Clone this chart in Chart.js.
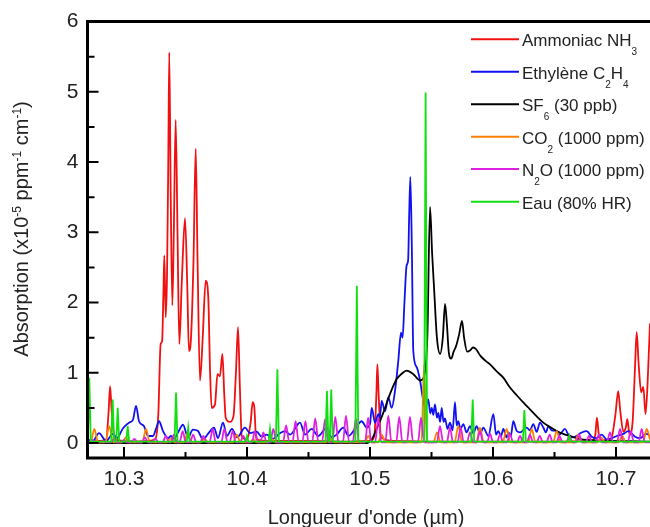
<!DOCTYPE html>
<html>
<head>
<meta charset="utf-8">
<script src="https://cdn.jsdelivr.net/npm/chart.js@4.4.0/dist/chart.umd.min.js"></script>
<style>
html, body { margin: 0; padding: 0; background: #fff; overflow: hidden; }
#wrap { width: 650px; height: 527px; }
</style>
</head>
<body>
<div id="wrap"><canvas id="spectre" width="650" height="527"></canvas></div>
<script>
// spectres : [longueur d'onde (um), absorption (x1e-5 ppm-1 cm-1)]
var nh3 = [
  [10.2703,0.02],[10.2800,0.03],[10.2855,0.05],[10.2875,0.45],[10.2887,0.81],[10.2900,0.45],[10.2925,0.06],
  [10.3000,0.03],[10.3100,0.02],[10.3200,0.03],[10.3255,0.06],[10.3279,0.41],[10.3298,1.41],[10.3310,1.45],
  [10.3320,2.10],[10.3328,2.67],[10.3339,1.79],[10.3350,2.40],[10.3360,4.00],[10.3368,5.56],[10.3380,3.50],
  [10.3393,1.96],[10.3405,3.00],[10.3420,4.60],[10.3435,3.00],[10.3450,1.41],[10.3470,2.30],[10.3496,3.20],
  [10.3515,2.20],[10.3528,1.31],[10.3545,1.50],[10.3565,2.60],[10.3583,4.19],[10.3598,2.60],[10.3618,0.89],
  [10.3640,1.50],[10.3664,2.31],[10.3685,2.08],[10.3700,1.00],[10.3713,0.50],[10.3740,0.55],[10.3760,0.98],
  [10.3780,0.95],[10.3800,1.27],[10.3815,0.70],[10.3827,0.36],[10.3860,0.30],[10.3890,0.38],[10.3910,1.00],
  [10.3927,1.65],[10.3942,0.80],[10.3957,0.10],[10.4000,0.05],[10.4030,0.30],[10.4046,0.58],[10.4060,0.50],
  [10.4075,0.05],[10.4200,0.03],[10.4500,0.03],[10.4800,0.02],[10.5000,0.03],[10.5035,0.10],[10.5052,0.70],
  [10.5060,1.12],[10.5070,0.70],[10.5090,0.08],[10.5200,0.03],[10.5500,0.02],[10.6000,0.02],[10.6500,0.02],
  [10.6800,0.03],[10.6832,0.12],[10.6845,0.36],[10.6862,0.10],[10.6900,0.04],[10.6960,0.06],[10.6995,0.40],
  [10.7018,0.74],[10.7035,0.45],[10.7060,0.16],[10.7080,0.22],[10.7092,0.34],[10.7110,0.12],[10.7135,0.30],
  [10.7155,1.10],[10.7168,1.58],[10.7185,1.10],[10.7205,0.72],[10.7222,0.80],[10.7240,0.41],[10.7258,0.90],
  [10.7276,1.70]
];
var c2h4 = [
  [10.2703,0.05],[10.2748,0.03],[10.2797,0.14],[10.2854,0.03],[10.2911,0.13],[10.2943,0.07],[10.2992,0.21],
  [10.3041,0.29],[10.3073,0.33],[10.3098,0.53],[10.3122,0.31],[10.3163,0.24],[10.3195,0.10],[10.3236,0.10],
  [10.3260,0.20],[10.3285,0.31],[10.3317,0.17],[10.3358,0.07],[10.3382,0.10],[10.3407,0.06],[10.3439,0.15],
  [10.3480,0.26],[10.3520,0.08],[10.3561,0.19],[10.3602,0.17],[10.3642,0.05],[10.3683,0.13],[10.3732,0.22],
  [10.3764,0.07],[10.3805,0.29],[10.3837,0.10],[10.3878,0.20],[10.3920,0.08],[10.3984,0.22],[10.4024,0.14],
  [10.4079,0.16],[10.4119,0.09],[10.4160,0.12],[10.4210,0.06],[10.4268,0.14],[10.4309,0.17],[10.4350,0.12],
  [10.4431,0.29],[10.4472,0.12],[10.4526,0.20],[10.4580,0.10],[10.4648,0.22],[10.4689,0.08],[10.4729,0.12],
  [10.4783,0.22],[10.4824,0.10],[10.4878,0.20],[10.4932,0.31],[10.4973,0.22],[10.5000,0.27],[10.5014,0.50],
  [10.5041,0.29],[10.5068,0.41],[10.5080,0.36],[10.5095,0.60],[10.5122,0.45],[10.5149,0.65],[10.5176,0.50],
  [10.5203,0.74],[10.5230,1.17],[10.5252,1.57],[10.5265,1.50],[10.5280,2.00],[10.5298,2.53],[10.5310,2.60],
  [10.5318,3.20],[10.5328,3.79],[10.5340,2.80],[10.5352,1.31],[10.5380,1.08],[10.5407,0.89],[10.5433,0.60],
  [10.5450,0.50],[10.5474,0.62],[10.5490,0.42],[10.5502,0.50],[10.5515,0.40],[10.5528,0.55],[10.5545,0.36],
  [10.5555,0.43],[10.5570,0.30],[10.5583,0.50],[10.5598,0.30],[10.5610,0.35],[10.5630,0.20],[10.5650,0.29],
  [10.5672,0.18],[10.5691,0.58],[10.5705,0.25],[10.5718,0.31],[10.5735,0.20],[10.5759,0.27],[10.5785,0.15],
  [10.5813,0.24],[10.5840,0.14],[10.5867,0.24],[10.5895,0.13],[10.5921,0.22],[10.5962,0.10],[10.6003,0.41],
  [10.6025,0.12],[10.6043,0.17],[10.6065,0.10],[10.6084,0.20],[10.6110,0.08],[10.6125,0.15],[10.6145,0.10],
  [10.6165,0.31],[10.6193,0.17],[10.6220,0.15],[10.6274,0.22],[10.6300,0.18],[10.6328,0.27],[10.6355,0.16],
  [10.6382,0.29],[10.6409,0.22],[10.6430,0.15],[10.6450,0.24],[10.6477,0.18],[10.6518,0.17],[10.6540,0.12],
  [10.6585,0.20],[10.6612,0.12],[10.6653,0.08],[10.6721,0.15],[10.6762,0.17],[10.6802,0.09],[10.6843,0.07],
  [10.6884,0.12],[10.6924,0.05],[10.6965,0.07],[10.7006,0.10],[10.7060,0.13],[10.7100,0.17],[10.7155,0.09],
  [10.7195,0.07],[10.7250,0.13],[10.7276,0.10]
];
var sf6 = [
  [10.2703,0.00],[10.4970,0.00],[10.5014,0.05],[10.5054,0.20],[10.5108,0.43],[10.5163,0.70],[10.5217,0.91],
  [10.5260,0.99],[10.5298,1.03],[10.5352,0.98],[10.5407,0.89],[10.5440,0.95],[10.5467,1.55],[10.5488,3.36],
  [10.5505,2.70],[10.5521,2.20],[10.5544,1.50],[10.5570,1.27],[10.5592,1.50],[10.5610,1.98],[10.5625,1.70],
  [10.5640,1.30],[10.5660,1.20],[10.5680,1.30],[10.5700,1.38],[10.5725,1.55],[10.5748,1.74],[10.5765,1.50],
  [10.5790,1.30],[10.5815,1.32],[10.5837,1.36],[10.5860,1.34],[10.5898,1.24],[10.5940,1.17],[10.5976,1.12],
  [10.6030,1.02],[10.6084,0.93],[10.6138,0.79],[10.6193,0.68],[10.6250,0.57],[10.6300,0.48],[10.6355,0.38],
  [10.6409,0.29],[10.6460,0.23],[10.6518,0.17],[10.6570,0.13],[10.6626,0.10],[10.6700,0.06],[10.6800,0.04],
  [10.6900,0.03],[10.7000,0.03],[10.7276,0.02]
];
var co2 = [
  [10.2703,0.01],[10.2729,0.01],[10.2759,0.20],[10.2789,0.01],[10.2850,0.01],[10.2880,0.24],[10.2910,0.01],
  [10.2985,0.01],[10.3015,0.08],[10.3045,0.01],[10.3149,0.01],[10.3179,0.20],[10.3209,0.01],[10.3352,0.01],
  [10.3382,0.07],[10.3412,0.01],[10.3488,0.01],[10.3518,0.15],[10.3548,0.01],[10.3625,0.01],[10.3655,0.06],
  [10.3685,0.01],[10.3886,0.01],[10.3916,0.12],[10.3946,0.01],[10.4020,0.01],[10.4050,0.05],[10.4080,0.01],
  [10.4170,0.01],[10.4200,0.06],[10.4230,0.01],[10.4645,0.01],[10.4675,0.08],[10.4705,0.01],[10.4956,0.01],
  [10.4986,0.10],[10.5016,0.01],[10.5065,0.01],[10.5095,0.12],[10.5125,0.01],[10.5418,0.01],[10.5440,1.12],
  [10.5462,0.01],[10.5515,0.01],[10.5545,0.15],[10.5575,0.01],[10.5688,0.01],[10.5718,0.24],[10.5748,0.01],
  [10.5864,0.01],[10.5894,0.22],[10.5924,0.01],[10.6080,0.01],[10.6110,0.20],[10.6140,0.01],[10.6285,0.01],
  [10.6315,0.20],[10.6345,0.01],[10.6488,0.01],[10.6518,0.17],[10.6548,0.01],[10.6663,0.01],[10.6693,0.12],
  [10.6723,0.01],[10.6850,0.01],[10.6880,0.08],[10.6910,0.01],[10.7020,0.01],[10.7050,0.10],[10.7080,0.01],
  [10.7220,0.01],[10.7250,0.20],[10.7276,0.05]
];
var n2o = [
  [10.2703,0.01],
  [10.2720,0.01],[10.2745,0.04],[10.2770,0.01],[10.2805,0.01],[10.2830,0.03],[10.2855,0.01],
  [10.2890,0.01],[10.2915,0.05],[10.2940,0.01],[10.2975,0.01],[10.3000,0.04],[10.3025,0.01],
  [10.3060,0.01],[10.3085,0.06],[10.3110,0.01],[10.3145,0.01],[10.3170,0.08],[10.3195,0.01],
  [10.3230,0.01],[10.3255,0.06],[10.3280,0.01],[10.3315,0.01],[10.3340,0.10],[10.3365,0.01],
  [10.3380,0.01],[10.3405,0.12],[10.3430,0.01],[10.3452,0.01],[10.3477,0.17],[10.3502,0.01],
  [10.3537,0.01],[10.3562,0.12],[10.3587,0.01],[10.3620,0.01],[10.3645,0.10],[10.3670,0.01],
  [10.3696,0.01],[10.3721,0.20],[10.3746,0.01],[10.3791,0.01],[10.3816,0.20],[10.3841,0.01],
  [10.3859,0.01],[10.3884,0.17],[10.3909,0.01],[10.3945,0.01],[10.3970,0.10],[10.3995,0.01],
  [10.4040,0.01],[10.4065,0.17],[10.4090,0.01],[10.4108,0.01],[10.4133,0.15],[10.4158,0.01],
  [10.4189,0.01],[10.4214,0.20],[10.4239,0.01],[10.4293,0.01],[10.4318,0.25],[10.4343,0.01],
  [10.4370,0.01],[10.4395,0.31],[10.4420,0.01],[10.4450,0.01],[10.4475,0.31],[10.4500,0.01],
  [10.4530,0.01],[10.4555,0.35],[10.4580,0.01],[10.4610,0.01],[10.4635,0.34],[10.4660,0.01],
  [10.4693,0.01],[10.4718,0.37],[10.4743,0.01],[10.4780,0.01],[10.4805,0.39],[10.4830,0.01],
  [10.4860,0.01],[10.4885,0.35],[10.4910,0.01],[10.4960,0.01],[10.4985,0.36],[10.5010,0.01],
  [10.5042,0.01],[10.5067,0.36],[10.5092,0.01],[10.5124,0.01],[10.5149,0.39],[10.5174,0.01],
  [10.5213,0.01],[10.5238,0.37],[10.5263,0.01],[10.5300,0.01],[10.5325,0.37],[10.5350,0.01],
  [10.5390,0.01],[10.5415,0.36],[10.5440,0.01],[10.5544,0.01],[10.5569,0.24],[10.5594,0.01],
  [10.5625,0.01],[10.5650,0.22],[10.5675,0.01],[10.5712,0.01],[10.5737,0.22],[10.5762,0.01],
  [10.5788,0.01],[10.5813,0.15],[10.5838,0.01],[10.5869,0.01],[10.5894,0.17],[10.5919,0.01],
  [10.5951,0.01],[10.5976,0.13],[10.6001,0.01],[10.6032,0.01],[10.6057,0.12],[10.6082,0.01],
  [10.6113,0.01],[10.6138,0.13],[10.6163,0.01],[10.6195,0.01],[10.6220,0.10],[10.6245,0.01],
  [10.6275,0.01],[10.6300,0.12],[10.6325,0.01],[10.6355,0.01],[10.6380,0.10],[10.6405,0.01],
  [10.6435,0.01],[10.6460,0.12],[10.6485,0.01],[10.6515,0.01],[10.6540,0.10],[10.6565,0.01],
  [10.6595,0.01],[10.6620,0.10],[10.6645,0.01],[10.6675,0.01],[10.6700,0.12],[10.6725,0.01],
  [10.6755,0.01],[10.6780,0.10],[10.6805,0.01],[10.6835,0.01],[10.6860,0.12],[10.6885,0.01],
  [10.6926,0.01],[10.6951,0.15],[10.6976,0.01],[10.7008,0.01],[10.7033,0.20],[10.7058,0.01],
  [10.7095,0.01],[10.7120,0.17],[10.7145,0.01],[10.7184,0.01],[10.7209,0.20],[10.7234,0.01],
  [10.7276,0.01]
];
var eau = [
  [10.2703,0.05],[10.2710,0.30],[10.2718,0.93],[10.2730,0.02],[10.2896,0.02],[10.2908,0.62],[10.2920,0.02],
  [10.2937,0.02],[10.2949,0.50],[10.2961,0.02],[10.3018,0.02],[10.3030,0.24],[10.3042,0.02],[10.3411,0.02],
  [10.3423,0.72],[10.3435,0.02],[10.3510,0.02],[10.3522,0.22],[10.3534,0.02],[10.3988,0.02],[10.4000,0.10],
  [10.4012,0.02],[10.4175,0.02],[10.4187,0.20],[10.4199,0.02],[10.4235,0.02],[10.4247,1.05],[10.4259,0.02],
  [10.4638,0.02],[10.4650,0.74],[10.4662,0.02],[10.4673,0.02],[10.4685,0.76],[10.4697,0.02],[10.4881,0.02],
  [10.4893,2.24],[10.4905,0.02],[10.5440,0.02],[10.5452,4.99],[10.5464,0.02],[10.5823,0.02],[10.5835,0.62],
  [10.5847,0.02],[10.6243,0.02],[10.6255,0.47],[10.6267,0.02],[10.6608,0.02],[10.6620,0.10],[10.6632,0.02],
  [10.7276,0.02]
];

var seriesNames = ['Ammoniac NH₃', 'Ethylène C₂H₄', 'SF₆ (30 ppb)', 'CO₂ (1000 ppm)', 'N₂O (1000 ppm)', 'Eau (80% HR)'];
// meme texte, decoupe pour les indices (-1) et exposants (+1)
var legendParts = [
  [['Ammoniac NH', 0], ['3', -1]],
  [['Ethylène C', 0], ['2', -1], ['H', 0], ['4', -1]],
  [['SF', 0], ['6', -1], [' (30 ppb)', 0]],
  [['CO', 0], ['2', -1], [' (1000 ppm)', 0]],
  [['N', 0], ['2', -1], ['O (1000 ppm)', 0]],
  [['Eau (80% HR)', 0]]
];
var seriesColors = ['#f01010', '#1010f0', '#000000', '#ff8000', '#e020e0', '#10e010'];
var yTitleParts = [['Absorption (x10', 0], ['-5', 1], [' ppm', 0], ['-1', 1], [' cm', 0], ['-1', 1], [')', 0]];
var xTitle = "Longueur d'onde (µm)";
var xMinorTicks = [10.35, 10.45, 10.55, 10.65];
var yMinorTicks = [0.5, 1.5, 2.5, 3.5, 4.5, 5.5];

var FONT = "'Liberation Sans', Arial, sans-serif";

function toPoints(arr) {
    return arr.map(function(p) { return {x: p[0], y: p[1]}; });
}

function richWidth(ctx, parts, size, small) {
    var w = 0;
    parts.forEach(function(p) {
        ctx.font = (p[1] ? small : size) + 'px ' + FONT;
        w += ctx.measureText(p[0]).width;
    });
    return w;
}

function drawRich(ctx, parts, x, y, size, small, subOff, supOff) {
    parts.forEach(function(p) {
        ctx.font = (p[1] ? small : size) + 'px ' + FONT;
        var dy = p[1] < 0 ? subOff : (p[1] > 0 ? -supOff : 0);
        ctx.fillText(p[0], x, y + dy);
        x += ctx.measureText(p[0]).width;
    });
}

var cadre = {
    id: 'cadre',
    afterDatasetsDraw: function(chart) {
        var ctx = chart.ctx, a = chart.chartArea;
        var xs = chart.scales.x, ys = chart.scales.y;
        ctx.save();
        ctx.strokeStyle = '#000';
        ctx.lineWidth = 2;
        ctx.beginPath();
        xs.ticks.forEach(function(t) {
            var px = xs.getPixelForValue(t.value);
            ctx.moveTo(px, a.bottom); ctx.lineTo(px, a.bottom - 11);
        });
        xMinorTicks.forEach(function(v) {
            var px = xs.getPixelForValue(v);
            ctx.moveTo(px, a.bottom); ctx.lineTo(px, a.bottom - 6);
        });
        ys.ticks.forEach(function(t) {
            var py = ys.getPixelForValue(t.value);
            ctx.moveTo(a.left, py); ctx.lineTo(a.left + 11, py);
        });
        yMinorTicks.forEach(function(v) {
            var py = ys.getPixelForValue(v);
            ctx.moveTo(a.left, py); ctx.lineTo(a.left + 7, py);
        });
        ctx.stroke();
        ctx.lineWidth = 3;
        ctx.beginPath();
        ctx.moveTo(a.right + 2, a.top); ctx.lineTo(a.left, a.top);
        ctx.lineTo(a.left, a.bottom); ctx.lineTo(a.right + 2, a.bottom);
        ctx.stroke();
        ctx.restore();
    },
    afterDraw: function(chart) {
        var ctx = chart.ctx;
        ctx.save();
        ctx.fillStyle = '#222';
        ctx.textBaseline = 'alphabetic';
        ctx.textAlign = 'left';
        // titre axe x
        ctx.font = '20px ' + FONT;
        var w = ctx.measureText(xTitle).width;
        ctx.fillText(xTitle, 366 - w / 2, 524);
        // titre axe y, tourne
        ctx.translate(28, 229);
        ctx.rotate(-Math.PI / 2);
        var wy = richWidth(ctx, yTitleParts, 20, 12);
        drawRich(ctx, yTitleParts, -wy / 2, 0, 20, 12, 0, 7);
        ctx.setTransform(1, 0, 0, 1, 0, 0);
        // legende
        var rowY = [39.3, 71.7, 104.3, 136.7, 169, 201.7];
        legendParts.forEach(function(parts, i) {
            ctx.strokeStyle = seriesColors[i];
            ctx.lineWidth = 2;
            ctx.beginPath();
            ctx.moveTo(471, rowY[i]); ctx.lineTo(519, rowY[i]);
            ctx.stroke();
            ctx.fillStyle = '#222';
            drawRich(ctx, parts, 522, rowY[i] + 7, 17, 10, 9, 0);
        });
        ctx.restore();
    }
};

var sets = [nh3, c2h4, sf6, co2, n2o, eau];
var drawOrder = [6, 5, 4, 3, 2, 1];
var tension = ['monotone', 'monotone', 'monotone', 'monotone', 'monotone', 'default'];

var ctx = document.getElementById('spectre').getContext('2d');
var chart = new Chart(ctx, {
    type: 'line',
    data: {
        datasets: sets.map(function(s, i) {
            return {
                label: seriesNames[i],
                data: toPoints(s),
                borderColor: seriesColors[i],
                borderWidth: 1.8,
                pointRadius: 0,
                fill: false,
                tension: i === 5 ? 0 : 0.4,
                cubicInterpolationMode: tension[i],
                order: drawOrder[i]
            };
        })
    },
    options: {
        responsive: false,
        animation: false,
        devicePixelRatio: 1,
        layout: { padding: { top: 21.5, left: 0, right: 0, bottom: 0 } },
        plugins: {
            legend: { display: false },
            tooltip: { enabled: false }
        },
        scales: {
            x: {
                type: 'linear',
                min: 10.27033,
                max: 10.72764,
                afterFit: function(s) { s.height = 69; },
                grid: { display: false, drawTicks: false },
                border: { display: false },
                ticks: {
                    stepSize: 0.1,
                    includeBounds: false,
                    autoSkip: false,
                    maxRotation: 0,
                    padding: 9,
                    color: '#222',
                    font: { family: FONT, size: 21 }
                }
            },
            y: {
                min: -0.2135,
                max: 6,
                afterFit: function(s) { s.width = 87.5; },
                grid: { display: false, drawTicks: false },
                border: { display: false },
                ticks: {
                    stepSize: 1,
                    includeBounds: false,
                    padding: 9,
                    color: '#222',
                    font: { family: FONT, size: 21 }
                }
            }
        }
    },
    plugins: [cadre]
});
</script>
</body>
</html>
